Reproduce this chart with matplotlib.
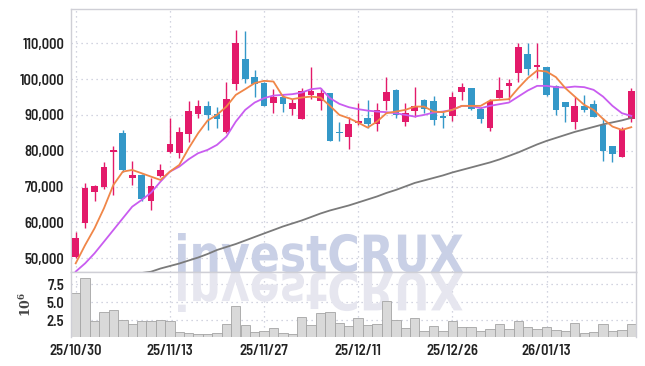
import numpy as np
import matplotlib
matplotlib.use("Agg")
import matplotlib.pyplot as plt
from matplotlib.textpath import TextPath
from matplotlib.patches import PathPatch
from matplotlib.font_manager import FontProperties
from matplotlib.transforms import Affine2D

# datos diarios (KRW), 25/10/30 .. 26/01/26
opens = [50450, 59940, 68600, 70000, 79770, 85000, 72510, 73270, 66090, 73070,
         79770, 79490, 84630, 90300, 92540, 90300, 85190, 98600, 105660, 100640,
         99050, 93460, 95050, 91780, 88820, 95610, 94020, 96080, 85200, 83960,
         87710, 89270, 87510, 94020, 97010, 88150, 91220, 94210, 93930, 89740,
         89830, 96530, 97480, 91620, 86310, 94860, 98120, 101840, 107060, 103520,
         103350, 98120, 93650, 88150, 92540, 93100, 87230, 81370, 78380, 88820]
highs = [57260, 71120, 70390, 76810, 81450, 85830, 77090, 73460, 72340, 76250,
         89100, 86760, 93930, 94210, 93930, 92170, 99160, 113790, 113480, 102510,
         99100, 97370, 95890, 94580, 97480, 103350, 97480, 96200, 88150, 89380,
         93460, 94210, 93290, 100550, 97290, 93290, 97760, 94400, 95410, 90950,
         96530, 98880, 97600, 92340, 94490, 100720, 100080, 110050, 110050, 110050,
         103500, 98400, 93700, 95130, 95610, 94210, 89100, 81400, 86590, 97480]
lows = [50100, 58380, 66000, 69270, 67680, 74190, 70470, 66000, 63490, 72790,
        79500, 77930, 82400, 89100, 85830, 86480, 85000, 96930, 98880, 95130,
        92500, 90500, 90950, 89950, 88800, 94410, 91420, 82700, 82850, 80440,
        87230, 86310, 85640, 91420, 89100, 86950, 89550, 90500, 87230, 86480,
        88430, 94210, 91300, 87870, 85640, 94800, 94210, 99330, 101190, 100270,
        95300, 90020, 88150, 86030, 90950, 89400, 77260, 76980, 78300, 88150]
closes = [55590, 69550, 70190, 75420, 80250, 74660, 73270, 66560, 70190, 74660,
          81920, 85190, 91140, 92540, 90020, 88820, 94490, 110220, 100080, 98600,
          92620, 95050, 93180, 93380, 96810, 96810, 96080, 82850, 85000, 87430,
          88350, 87510, 91420, 96530, 90020, 90500, 92540, 91700, 88630, 89270,
          94970, 97760, 91620, 88820, 93930, 97010, 99050, 108930, 102870, 103990,
          95610, 91420, 92340, 92540, 91420, 89550, 79970, 79130, 85830, 96730]

# medias moviles
ma_short = [48600, 53700, 58380, 63970, 70470, 74190, 74660, 73740, 72790, 71870,
            74190, 76060, 80720, 84910, 88430, 90020, 92340, 95610, 97200, 98880,
            99520, 99330, 95130, 94410, 94860, 95130, 94860, 92540, 90020, 89100,
            87870, 86480, 88150, 90500, 90950, 91420, 92340, 92340, 90950, 90780,
            91420, 92540, 92540, 92540, 94020, 94210, 94410, 97480, 100270, 102400,
            102120, 100550, 97480, 95130, 92820, 91420, 88900, 86760, 85830, 86590]
ma_mid = [46300, 48600, 51400, 54640, 57900, 61170, 64410, 66280, 68320, 71390,
          74190, 75580, 77650, 79330, 80250, 81650, 83960, 88150, 91420, 93460,
          94700, 95410, 95610, 95800, 96250, 97200, 97480, 94700, 93100, 92170,
          91620, 91220, 90950, 90780, 90500, 90020, 89550, 90020, 90670, 90950,
          91420, 92540, 92540, 91900, 92540, 93010, 93460, 95130, 96810, 98120,
          98120, 97760, 97650, 97930, 97760, 97010, 95130, 92540, 90500, 89740]
ma_long = [np.nan, np.nan, np.nan, np.nan, np.nan, np.nan, 45500, 45900, 46260, 47150,
           47850, 48550, 49390, 50220, 51200, 52320, 53160, 53990, 54970, 55950,
           56930, 57900, 58880, 59720, 60560, 61530, 62510, 63350, 64050, 64750,
           65580, 66420, 67260, 68240, 69080, 70050, 71030, 71730, 72430, 73130,
           73960, 74660, 75360, 76060, 76760, 77600, 78570, 79550, 80670, 81780,
           82760, 83600, 84440, 85280, 85970, 86670, 87370, 87930, 88490, 89190]

# volumen en millones
volume = [6.3, 8.3, 2.4, 3.6, 3.9, 2.6, 2.0, 2.4, 2.4, 2.5,
          2.4, 0.9, 0.76, 0.58, 0.58, 0.76, 1.95, 4.5, 1.86, 0.9,
          1.03, 1.4, 0.76, 0.58, 2.9, 1.86, 3.5, 3.6, 2.1, 1.7,
          2.8, 1.86, 2.0, 5.2, 2.55, 1.4, 2.8, 1.03, 1.7, 1.03,
          2.4, 1.58, 1.58, 1.03, 1.3, 2.0, 1.3, 2.4, 1.58, 1.3,
          1.58, 1.17, 1.03, 2.13, 0.76, 0.9, 2.0, 1.03, 1.17, 2.0]

date_ticks = [0, 10, 20, 30, 40, 50]
date_labels = ['25/10/30', '25/11/13', '25/11/27', '25/12/11', '25/12/26', '26/01/13']
price_ticks = [50000, 60000, 70000, 80000, 90000, 100000, 110000]
vol_ticks = [2.5, 5.0, 7.5]

up_color = '#e31a6a'
down_color = '#3498c8'
grid_color = '#c4c6d6'
frame_color = '#cfcfd6'

plt.rcParams['font.family'] = ['Barlow Semi Condensed', 'Roboto', 'DejaVu Sans']
plt.rcParams['font.weight'] = 600
plt.rcParams['mathtext.fontset'] = 'dejavuserif'

x = np.arange(len(closes))
o = np.array(opens)
c = np.array(closes)
colors = [up_color if cc >= oo else down_color for oo, cc in zip(o, c)]

fig = plt.figure(figsize=(6.45, 3.66), dpi=100)
ax = fig.add_axes([71/645, 1-272/366, 565/645, 263/366])
axv = fig.add_axes([71/645, 1-337.3/366, 565/645, 65.3/366], sharex=ax)

# marca de agua con reflejo
tp = TextPath((0, 0), 'investCRUX', size=100,
              prop=FontProperties(family='DejaVu Sans', weight='bold'))
ext = tp.get_extents()
sx = 285 / ext.width
sy = 39 / ext.ymax
t_up = Affine2D().translate(-ext.xmin, 0).scale(sx, sy).translate(178, 366-272)
t_dn = Affine2D().translate(-ext.xmin, 0).scale(sx, -sy).translate(178, 366-273)
ax.add_patch(PathPatch(tp, transform=t_up, facecolor='#c9d0e6', edgecolor='none', zorder=0.6))
axv.add_patch(PathPatch(tp, transform=t_dn, facecolor='#e6e6ef', edgecolor='none', zorder=0.6))

# velas
body_bottom = np.minimum(o, c)
body_height = np.maximum(np.abs(c - o), 350)
ax.vlines(x, lows, highs, colors=colors, linewidth=1.0, zorder=3)
ax.bar(x, body_height, bottom=body_bottom, width=0.7, color=colors, zorder=4)

ax.plot(x, ma_long, color='#7a7a7a', linewidth=1.3, zorder=5)
ax.plot(x, ma_mid, color='#c95cf0', linewidth=1.3, zorder=5)
ax.plot(x, ma_short, color='#f08648', linewidth=1.3, zorder=5)

ax.set_xlim(-0.5, 59.5)
ax.set_ylim(46180, 119570)
ax.set_yticks(price_ticks)
ax.set_yticklabels([f'{v:,}' for v in price_ticks])
ax.set_xticks(date_ticks)
ax.tick_params(axis='x', labelbottom=False, length=0)
ax.tick_params(axis='y', length=0, pad=5, labelsize=10.5, labelcolor='#222222')

# volumen
axv.bar(x, volume, width=1.0, color='#d9d9d9', edgecolor='#a4a4a4', linewidth=0.6, zorder=2)
axv.set_ylim(0.15, 9.17)
axv.set_yticks(vol_ticks)
axv.set_yticklabels(['2.5', '5.0', '7.5'])
axv.set_xticks(date_ticks)
axv.set_xticklabels(date_labels)
axv.tick_params(axis='both', length=0, labelsize=10.5, labelcolor='#222222')
axv.tick_params(axis='y', pad=5)
axv.tick_params(axis='x', pad=5)
axv.set_ylabel(r'$10^6$', fontsize=9, color='#444444', labelpad=9, fontweight='normal')

for a in (ax, axv):
    a.set_axisbelow(True)
    a.grid(True, linestyle=(0, (1, 3)), color=grid_color, linewidth=0.9)
    for s in a.spines.values():
        s.set_color(frame_color)
        s.set_linewidth(1.0)
axv.spines['bottom'].set_visible(False)

fig.savefig('out.png', dpi=100)
